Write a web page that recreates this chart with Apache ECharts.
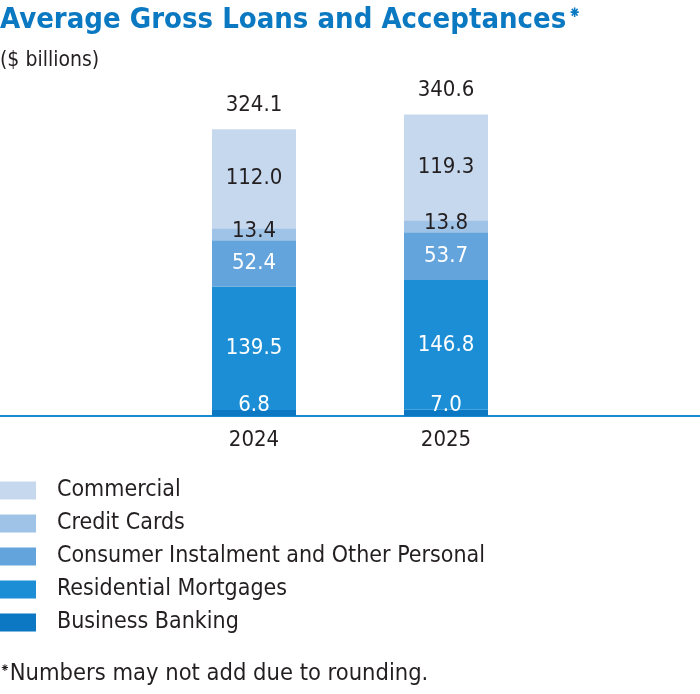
<!DOCTYPE html>
<html>
<head>
<meta charset="utf-8">
<script src="https://cdn.jsdelivr.net/npm/echarts@6/dist/echarts.min.js"></script>
<style>
html,body{margin:0;padding:0;background:#fff;}
#c{width:700px;height:694px;}
</style>
</head>
<body>
<div id="c"></div>
<script>
var years = ['2024', '2025'];
var commercial = [112.0, 119.3];
var creditCards = [13.4, 13.8];
var consumer = [52.4, 53.7];
var residential = [139.5, 146.8];
var business = [6.8, 7.0];
var totals = [324.1, 340.6];
var seriesNames = ['Commercial', 'Credit Cards', 'Consumer Instalment and Other Personal', 'Residential Mortgages', 'Business Banking'];

var FONT = '"Liberation Sans Narrow","DejaVu Sans Condensed",sans-serif';
var DARK = '#231f20';
var colors = ['#c6d8ee', '#9fc3e7', '#64a4dc', '#1b8ed5', '#0c77c2'];
var MARK = '\u2055';

function seg(name, data, color, labelColor, offset) {
  return {
    name: name,
    type: 'bar',
    stack: 'total',
    barWidth: 84,
    data: data,
    itemStyle: { color: color },
    label: {
      show: true,
      position: 'inside',
      offset: offset || [0, 0],
      color: labelColor,
      fontFamily: FONT,
      fontSize: 22,
      formatter: function (p) { return p.value.toFixed(1); }
    },
    emphasis: { disabled: true }
  };
}

var chart = echarts.init(document.getElementById('c'));
chart.setOption({
  animation: false,
  title: [
    {
      text: '{t|Average Gross Loans and Acceptances}{s|' + MARK + '}',
      left: 0, top: 6, padding: 0,
      textStyle: {
        rich: {
          t: { fontFamily: FONT, fontWeight: 'bold', fontSize: 29, color: '#0b79c1' },
          s: { fontFamily: FONT, fontWeight: 'bold', fontSize: 17, color: '#0b79c1', verticalAlign: 'top', padding: [0, 0, 0, 2] }
        }
      }
    },
    {
      text: '($ billions)',
      left: 0, top: 50, padding: 0,
      textStyle: { fontFamily: FONT, fontWeight: 'normal', fontSize: 21, color: DARK }
    },
    {
      text: '{s|' + MARK + '}{t|Numbers may not add due to rounding.}',
      left: 0, top: 662, padding: 0,
      textStyle: {
        fontWeight: 'normal',
        rich: {
          t: { fontFamily: FONT, fontWeight: 'normal', fontSize: 23.5, color: DARK },
          s: { fontFamily: FONT, fontWeight: 'normal', fontSize: 13, color: DARK, verticalAlign: 'top' }
        }
      }
    }
  ],
  legend: {
    data: seriesNames,
    orient: 'vertical',
    left: 0,
    top: 479,
    padding: 0,
    icon: 'rect',
    itemWidth: 36,
    itemHeight: 18,
    itemGap: 10,
    selectedMode: false,
    textStyle: { fontFamily: FONT, fontSize: 23, color: DARK, padding: [0, 0, 0, 16] }
  },
  grid: [
    { left: 158, right: 158, top: 62, bottom: 278 },
    { left: 0, right: 0, top: 62, bottom: 278 }
  ],
  xAxis: [
    {
      type: 'category',
      data: years,
      gridIndex: 0,
      axisLine: { show: false },
      axisTick: { show: false },
      axisLabel: { fontFamily: FONT, fontSize: 22, color: DARK, margin: 13 }
    },
    {
      type: 'category',
      data: [''],
      gridIndex: 1,
      axisLine: { show: true, lineStyle: { color: '#1a8ad4', width: 2 } },
      axisTick: { show: false },
      axisLabel: { show: false }
    }
  ],
  yAxis: [
    { type: 'value', gridIndex: 0, min: 0, max: 400, show: false },
    { type: 'value', gridIndex: 1, min: 0, max: 400, show: false }
  ],
  series: [
    seg(seriesNames[4], business, colors[4], '#ffffff', [0, -8]),
    seg(seriesNames[3], residential, colors[3], '#ffffff'),
    seg(seriesNames[2], consumer, colors[2], '#ffffff'),
    seg(seriesNames[1], creditCards, colors[1], DARK, [0, -3]),
    seg(seriesNames[0], commercial, colors[0], DARK),
    {
      name: 'Total',
      type: 'bar',
      barWidth: 84,
      barGap: '-100%',
      data: totals,
      itemStyle: { color: 'rgba(0,0,0,0)' },
      z: 1,
      silent: true,
      label: {
        show: true,
        position: 'top',
        distance: 13,
        color: DARK,
        fontFamily: FONT,
        fontSize: 22,
        formatter: function (p) { return p.value.toFixed(1); }
      }
    }
  ]
});
</script>
</body>
</html>
